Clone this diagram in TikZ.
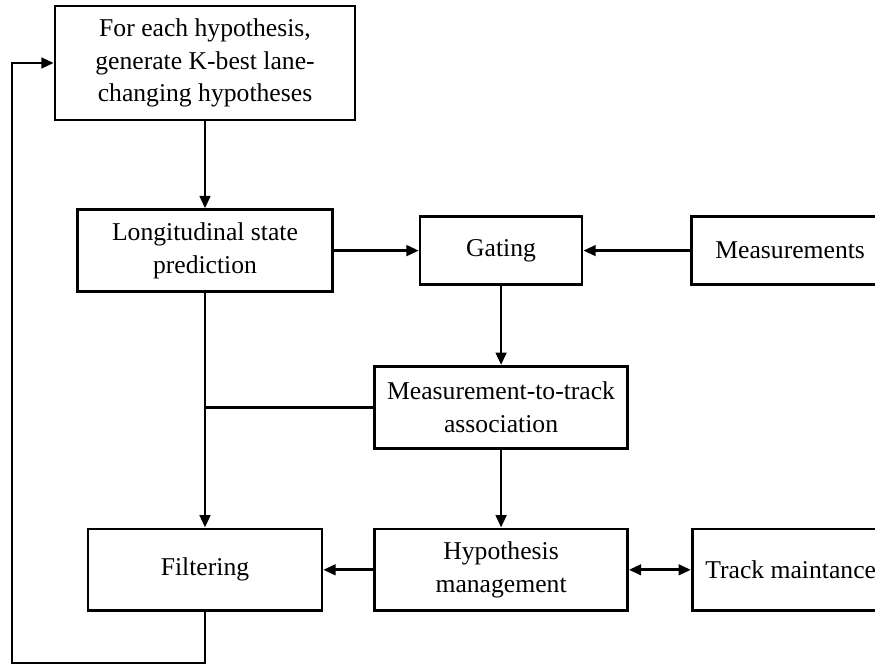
\documentclass[tikz,border=0pt]{standalone}
\usepackage{fontspec}
\setmainfont{Liberation Serif}
\usepackage{tikz}
\usetikzlibrary{arrows.meta,positioning,calc}

\begin{document}
\begin{tikzpicture}[
    x=0.02cm, y=-0.02cm,
    box/.style={rectangle,draw,line width=1.5pt,align=center,inner sep=0pt,
      minimum height=1.64cm,font=\fontsize{14.6}{18.7}\selectfont},
    link/.style={line width=1.5pt},
    >={Triangle[length=7pt,width=6pt]}]
    \clip (0,0) rectangle (875,666);
    \node[box,minimum width=6cm,minimum height=2.28cm] (gen) at (205,63)
      {For each hypothesis,\\generate K-best lane-\\changing hypotheses};
    \node[box,minimum width=5.1cm,below=1.74cm of gen] (pred) {Longitudinal state\\prediction};
    \node[box,minimum width=3.24cm,minimum height=1.36cm,right=1.7cm of pred] (gate) {Gating};
    \node[box,minimum width=3.94cm,minimum height=1.36cm,right=2.14cm of gate] (meas) {Measurements};
    \node[box,minimum width=5.06cm,below=1.58cm of gate] (assoc) {Measurement-to-track\\association};
    \node[box,minimum width=5.06cm,below=1.56cm of assoc] (mgmt) {Hypothesis\\management};
    \node[box,minimum width=4.68cm,left=1cm of mgmt] (filt) {Filtering};
    \node[box,minimum width=3.94cm,right=1.24cm of mgmt] (maint) {Track maintance};
    \coordinate (loop) at (12,663);

    \draw[link,->] (gen) -- (pred);
    \draw[link,->] (pred) -- (gate);
    \draw[link,->] (meas) -- (gate);
    \draw[link,->] (gate) -- (assoc);
    \draw[link,->] (assoc) -- (mgmt);
    \draw[link,->] (mgmt) -- (filt);
    \draw[link,<->] (mgmt) -- (maint);
    \draw[link,->] (pred.south) -- (pred.south |- filt.north);
    \draw[link] (assoc.west) -- (pred.south |- assoc.west);
    \draw[link,->] (filt.south) |- (loop) |- (gen.west);
  \end{tikzpicture}
\end{document}
